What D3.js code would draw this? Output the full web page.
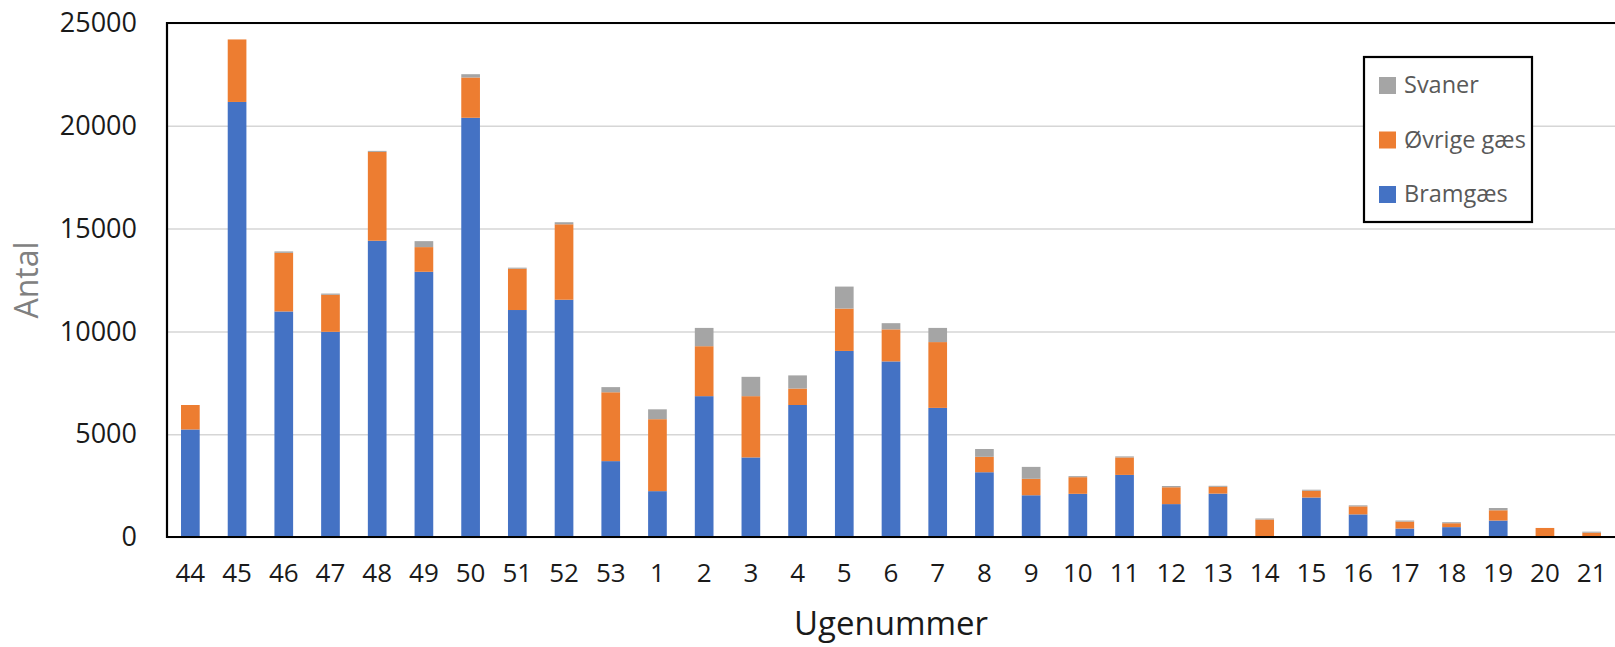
<!DOCTYPE html>
<html><head><meta charset="utf-8">
<script src="https://cdn.jsdelivr.net/npm/d3@7"></script>
<style>body{margin:0;background:#fff;overflow:hidden;} svg{display:block;}</style>
</head><body>
<svg id="c" width="1615" height="647"></svg>
<script>
const weeks = ["44","45","46","47","48","49","50","51","52","53","1","2","3","4","5","6","7","8","9","10","11","12","13","14","15","16","17","18","19","20","21"];
const bramgaes   = [5230,21160,10970,9980,14410,12900,20390,11040,11540,3690,2230,6850,3870,6420,9050,8540,6280,3150,2030,2100,3020,1600,2110,0,1920,1100,410,480,800,0,0];
const ovrigeGaes = [1190,3040,2850,1800,4320,1200,1960,2010,3670,3350,3500,2430,2980,800,2060,1560,3200,750,800,810,850,820,330,850,330,390,340,190,500,440,210];
const svaner     = [0,0,70,60,50,290,160,50,100,250,480,890,940,640,1070,300,690,380,580,50,50,60,50,50,50,50,50,50,110,0,50];
const seriesKeys = ["Bramgæs","Øvrige gæs","Svaner"];
const seriesColors = ["#4472C4","#ED7D31","#A5A5A5"];
const yTicks = [0,5000,10000,15000,20000,25000];
const yTitle = "Antal";
const xTitle = "Ugenummer";

const table = weeks.map((w,i)=>({week:w,"Bramgæs":bramgaes[i],"Øvrige gæs":ovrigeGaes[i],"Svaner":svaner[i]}));

const svg = d3.select("#c");
const L = 167, R = 1615, T = 23, B = 537;
const font = "'Open Sans', 'Noto Sans', sans-serif";

const x = d3.scaleBand().domain(weeks).range([L, R]).paddingInner(0.6).paddingOuter(0.3);
const y = d3.scaleLinear().domain([0,25000]).range([B, T]);
const color = d3.scaleOrdinal().domain(seriesKeys).range(seriesColors);

// gridlines
svg.append("g").attr("transform",`translate(${L},0)`)
  .call(d3.axisLeft(y).tickValues(yTicks).tickSize(-(R-L)).tickFormat(""))
  .call(g=>g.select(".domain").remove())
  .call(g=>g.selectAll("line").attr("stroke","#d6d6d6").attr("stroke-width",1.5));

// bars
const stack = d3.stack().keys(seriesKeys)(table);
svg.append("g").selectAll("g").data(stack).join("g")
  .attr("fill",d=>color(d.key))
  .selectAll("rect").data(d=>d).join("rect")
  .attr("x",d=>x(d.data.week))
  .attr("width",x.bandwidth())
  .attr("y",d=>y(d[1]))
  .attr("height",d=>Math.max(0,y(d[0])-y(d[1])));

// frame (left, top, bottom)
svg.append("path").attr("d",`M${R+2},${T}H${L}V${B}H${R+2}`)
  .attr("fill","none").attr("stroke","#000").attr("stroke-width",2.2);

// y axis labels
svg.append("g").attr("transform",`translate(${L-30},0)`)
  .call(d3.axisLeft(y).tickValues(yTicks).tickSize(0).tickPadding(0).tickFormat(d3.format("d")))
  .call(g=>g.select(".domain").remove())
  .call(g=>g.selectAll("text").attr("font-family",font).attr("font-size",27).attr("fill","#1a1a1a"));

// x axis labels
svg.append("g").attr("transform",`translate(0,${B+27})`)
  .call(d3.axisBottom(x).tickSize(0).tickPadding(0))
  .call(g=>g.select(".domain").remove())
  .call(g=>g.selectAll("text").attr("font-family",font).attr("font-size",26).attr("fill","#1a1a1a"));

// axis titles
svg.append("text").attr("x",(L+R)/2).attr("y",635).attr("text-anchor","middle")
  .attr("font-family",font).attr("font-size",33).attr("fill","#1a1a1a").text(xTitle);
svg.append("text").attr("transform",`translate(38,${(T+B)/2}) rotate(-90)`).attr("text-anchor","middle")
  .attr("font-family",font).attr("font-size",32).attr("fill","#808080").text(yTitle);

// legend
const lg = svg.append("g");
lg.append("rect").attr("x",1364).attr("y",57).attr("width",168).attr("height",165)
  .attr("fill","#fff").attr("stroke","#000").attr("stroke-width",2.2);
const legendOrder = ["Svaner","Øvrige gæs","Bramgæs"];
const ly = d3.scalePoint().domain(legendOrder).range([85,194]);
legendOrder.forEach(k=>{
  lg.append("rect").attr("x",1379).attr("y",ly(k)-8).attr("width",17).attr("height",17).attr("fill",color(k));
  lg.append("text").attr("x",1404).attr("y",ly(k)).attr("dy","0.36em")
    .attr("font-family",font).attr("font-size",23.5).attr("fill","#595959").text(k);
});
</script>
</body></html>
